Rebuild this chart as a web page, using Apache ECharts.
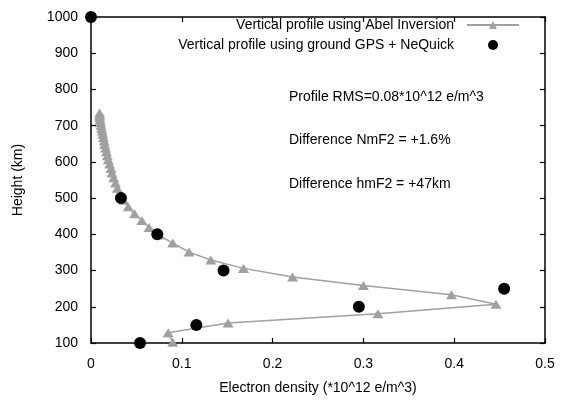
<!DOCTYPE html>
<html><head><meta charset="utf-8">
<script src="https://cdn.jsdelivr.net/npm/echarts@6/dist/echarts.min.js"></script>
<style>html,body{margin:0;padding:0;background:#fff}#c{width:569px;height:401px}</style>
</head><body><div id="c"></div>
<script>
// Abel inversion profile: electron density (x) and height in km (h)
const abelDensity = [0.090,0.085,0.151,0.316,0.446,0.397,0.300,0.222,0.168,0.132,0.108,0.090,0.075,0.064,0.056,0.048,0.041,0.036,0.032,0.029,0.027,0.025,0.023,0.022,0.0205,0.019,0.018,0.017,0.016,0.015,0.0145,0.0137,0.013,0.0123,0.0117,0.011,0.0105,0.010,0.0097,0.0095,0.0095];
const abelHeight  = [102,128,155,181,207,233,259,282,306,329,351,376,398,419,438,457,476,494,511,527,542,556,569,582,594,606,617,628,638,648,658,667,676,685,693,701,709,716,723,729,735];
// Ground GPS + NeQuick profile
const gpsDensity = [0.054,0.116,0.295,0.455,0.146,0.073,0.033,0.0];
const gpsHeight  = [100,150,200,250,300,400,500,1000];
const xTicks = {min:0,max:0.5,interval:0.1};
const yTicks = {min:100,max:1000,interval:100};
const annotations = ["Profile RMS=0.08*10^12 e/m^3","Difference NmF2 = +1.6%","Difference hmF2 = +47km"];
const seriesNames = ["Vertical profile using Abel Inversion","Vertical profile using ground GPS + NeQuick"];

const FONT = "Liberation Sans, Arial, sans-serif";
const chart = echarts.init(document.getElementById('c'), null, {renderer:'canvas'});
function mkAxis(extra){
  const a = {
    axisLine:{show:true,onZero:false,lineStyle:{color:'#000000',width:1.5,opacity:1}},
    axisTick:{show:true,inside:true,length:5,lineStyle:{color:'#000000',width:1.2,opacity:1}},
    splitLine:{show:false}
  };
  return Object.assign(a, extra);
}
chart.setOption({
  animation:false,
  backgroundColor:'#ffffff',
  grid:{left:91,right:24,top:17,bottom:58,containLabel:false},
  xAxis:[
    mkAxis({type:'value',position:'bottom',min:xTicks.min,max:xTicks.max,interval:xTicks.interval,
      name:'Electron density (*10^12 e/m^3)',nameLocation:'middle',nameGap:38,
      nameTextStyle:{fontFamily:FONT,fontSize:14,color:'#000'},
      axisLabel:{show:true,fontFamily:FONT,fontSize:14,color:'#000',margin:14,formatter:v=>String(+v.toFixed(2))}}),
    mkAxis({type:'value',position:'top',min:xTicks.min,max:xTicks.max,interval:xTicks.interval,axisLabel:{show:false}})
  ],
  yAxis:[
    mkAxis({type:'value',position:'left',min:yTicks.min,max:yTicks.max,interval:yTicks.interval,
      name:'Height (km)',nameLocation:'middle',nameGap:66,
      nameTextStyle:{fontFamily:FONT,fontSize:14,color:'#000'},
      axisLabel:{show:true,fontFamily:FONT,fontSize:14,color:'#000',margin:13,formatter:v=>String(v)}}),
    mkAxis({type:'value',position:'right',min:yTicks.min,max:yTicks.max,interval:yTicks.interval,axisLabel:{show:false}})
  ],
  legend:{
    orient:'vertical',right:44,top:13,align:'right',itemWidth:52,itemHeight:10,itemGap:6,
    textStyle:{fontFamily:FONT,fontSize:14,color:'#000',padding:[0,8,0,0]},
    data:[{name:seriesNames[0]},{name:seriesNames[1]}]
  },
  series:[
    {name:seriesNames[0],type:'line',xAxisIndex:0,yAxisIndex:0,data:abelDensity.map((x,i)=>[x,abelHeight[i]]),
     symbol:'triangle',symbolSize:[11,9],showAllSymbol:true,
     lineStyle:{color:'#a0a0a0',width:1.5},itemStyle:{color:'#a0a0a0',borderWidth:0,opacity:1},z:2},
    {name:seriesNames[1],type:'scatter',xAxisIndex:0,yAxisIndex:0,data:gpsDensity.map((x,i)=>[x,gpsHeight[i]]),
     symbol:'circle',symbolSize:12,clip:false,itemStyle:{color:'#000',opacity:1},z:3}
  ],
  graphic:annotations.map((t,i)=>({type:'text',left:289,top:90+i*43.5,
     style:{text:t,fontFamily:FONT,fontSize:14,fill:'#000'}}))
});
</script></body></html>
